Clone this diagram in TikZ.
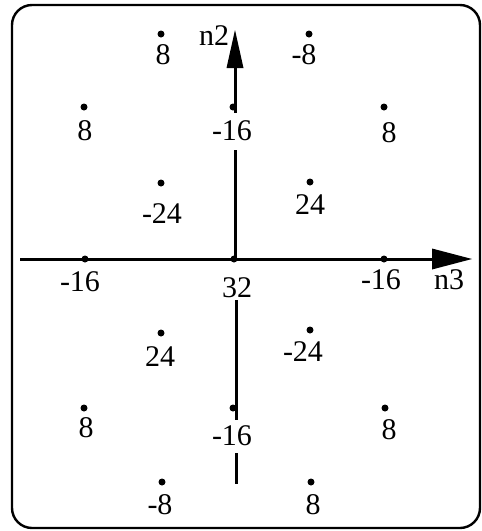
\documentclass[tikz,border=0pt]{standalone}
\usepackage{fontspec}
\setmainfont{Liberation Serif}
\begin{document}
\begin{tikzpicture}[x=1pt,y=-1pt,
  dot/.style={circle,fill=black,inner sep=0pt,minimum size=7pt},
  val/.style={inner sep=0pt,font=\fontsize{30}{32}\selectfont},
  axis/.style={line width=3pt},
  frame/.style={line width=2.4pt,rounded corners=20pt}]
\useasboundingbox (0,0) rectangle (482,531);
\draw[frame] (12,5) rectangle (480,528);
% axes
\coordinate (hs) at (20,259);
\coordinate (hb) at (434,259);
\coordinate (ht) at (472,259);
\draw[axis] (hs) -- (hb);
\fill (ht) -- (432,248.5) -- (432,269.5) -- cycle;
\coordinate (vt) at (235,30);
\fill (vt) -- (226.5,68) -- (243.5,68) -- cycle;
\draw[axis] (235,66) -- (235,113);
\draw[axis] (235,150) -- (235,259);
\draw[axis] (236,300) -- (236,420);
\draw[axis] (236,453) -- (236,484);
% dots
\node[dot] (a1) at (161,34) {};
\node[dot] (a2) at (309,34) {};
\node[dot] (b1) at (84,107) {};
\node[dot] (b2) at (233,107) {};
\node[dot] (b3) at (384,107) {};
\node[dot] (c1) at (161,183) {};
\node[dot] (c2) at (310,182) {};
\node[dot] (d1) at (85,259) {};
\node[dot] (d2) at (234,259) {};
\node[dot] (d3) at (384,259) {};
\node[dot] (e1) at (161,333) {};
\node[dot] (e2) at (310,330) {};
\node[dot] (f1) at (84,408) {};
\node[dot] (f2) at (233,408) {};
\node[dot] (f3) at (385,408) {};
\node[dot] (g1) at (162,482) {};
\node[dot] (g2) at (311,482) {};
% labels
\node[val] (la1) at (163,55) {8};
\node[val] (la2) at (304,55) {-8};
\node[val] (lb1) at (85,131) {8};
\node[val] (lb2) at (232,131) {-16};
\node[val] (lb3) at (389,133) {8};
\node[val] (lc1) at (162,214) {-24};
\node[val] (lc2) at (310,205) {24};
\node[val] (ld1) at (80,282) {-16};
\node[val] (ld2) at (237,288) {32};
\node[val] (ld3) at (381,280) {-16};
\node[val] (le1) at (160,357) {24};
\node[val] (le2) at (303,352) {-24};
\node[val] (lf1) at (86,428) {8};
\node[val] (lf2) at (232,436) {-16};
\node[val] (lf3) at (389,430) {8};
\node[val] (lg1) at (160,505) {-8};
\node[val] (lg2) at (313,505) {8};
\node[val] (n2) at (214,36) {n2};
\node[val] (n3) at (449,280) {n3};
\end{tikzpicture}
\end{document}
